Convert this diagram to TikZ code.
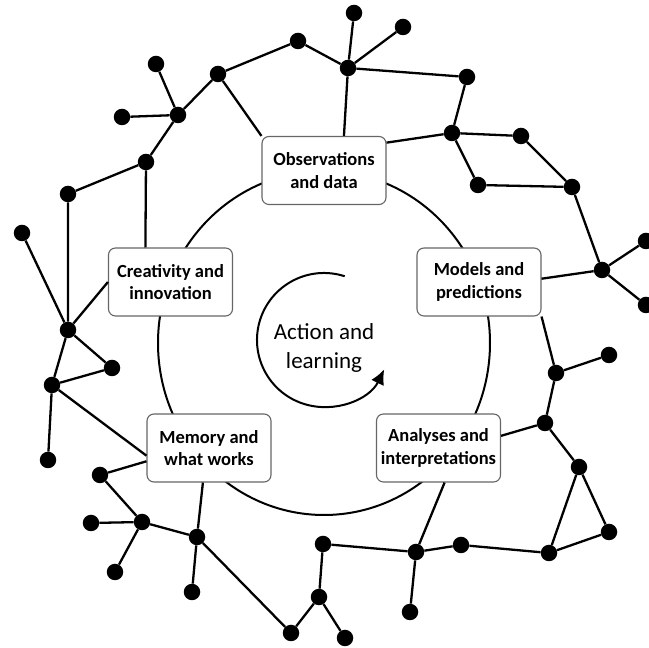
\documentclass[tikz,border=0pt]{standalone}
\usepackage{fontspec}
\setmainfont{Carlito}
\usepackage{tikz}
\usetikzlibrary{arrows.meta}
\tikzset{
    idea-box/.style = {draw=black!60, fill=white, line width=1.1pt, rectangle, rounded corners=7pt, minimum width=124pt, minimum height=68pt, inner sep=0pt, align=center, font=\fontsize{18.5}{22.5}\selectfont\bfseries},
    net-dot/.style = {circle, fill=black, inner sep=0pt, minimum size=16.5pt},
    net-link/.style = {line width=2.3pt},
}

\begin{document}
\begin{tikzpicture}[x=1pt, y=1pt]
\useasboundingbox (0,0) rectangle (649,648);
% ring and learning loop
\draw[line width=2pt] (324,305) ellipse [x radius=166, y radius=172];
\coordinate (loop-c) at (324,308);
\node[font=\fontsize{23}{29}\selectfont, align=center] (centre) at (324,300) {Action and\\learning};
\draw[line width=2pt, -{Latex[length=15pt, width=14pt]}] ([shift={(72:67)}]loop-c) arc [start angle=72, end angle=334, radius=67];

% the five boxes
\node[idea-box] (obs) at (324,477.5) {Observations\\and data};
\node[idea-box] (creative) at (170.5,366) {Creativity and\\innovation};
\node[idea-box] (models) at (479,366) {Models and\\predictions};
\node[idea-box] (memory) at (209,200) {Memory and\\what works};
\node[idea-box] (analyses) at (438.5,200) {Analyses and\\interpretations};

% dots, top left
\node[net-dot] (a1) at (298,607) {};
\node[net-dot] (a2) at (218,574) {};
\node[net-dot] (a3) at (156,584) {};
\node[net-dot] (a4) at (178,533) {};
\node[net-dot] (a5) at (122,531) {};
\node[net-dot] (a6) at (146,486) {};
\node[net-dot] (a7) at (68,454) {};
\node[net-dot] (a8) at (22,415) {};
% dots, top right
\node[net-dot] (b1) at (354,635) {};
\node[net-dot] (b2) at (403,621) {};
\node[net-dot] (b3) at (348,580) {};
\node[net-dot] (b4) at (467,571) {};
\node[net-dot] (b5) at (452,515) {};
\node[net-dot] (b6) at (521,512) {};
\node[net-dot] (b7) at (478,463) {};
\node[net-dot] (b8) at (572,461) {};
\node[net-dot] (b9) at (602,378) {};
\node[net-dot] (b10) at (646,407) {};
\node[net-dot] (b11) at (646,343) {};
% dots, bottom left
\node[net-dot] (c1) at (68,318) {};
\node[net-dot] (c2) at (112,280) {};
\node[net-dot] (c3) at (52,263) {};
\node[net-dot] (c4) at (48,188) {};
\node[net-dot] (c5) at (100,173) {};
\node[net-dot] (c6) at (142,126) {};
\node[net-dot] (c7) at (91,125) {};
\node[net-dot] (c8) at (115,76) {};
\node[net-dot] (c9) at (197,111) {};
\node[net-dot] (c10) at (192,56) {};
\node[net-dot] (c11) at (291,15) {};
% dots, bottom right
\node[net-dot] (d1) at (609,293) {};
\node[net-dot] (d2) at (556,275) {};
\node[net-dot] (d3) at (545,225) {};
\node[net-dot] (d4) at (579,181) {};
\node[net-dot] (d5) at (609,116) {};
\node[net-dot] (d6) at (549,95) {};
\node[net-dot] (d7) at (461,103) {};
\node[net-dot] (d8) at (416,96) {};
\node[net-dot] (d9) at (410,36) {};
\node[net-dot] (d10) at (323,104) {};
\node[net-dot] (d11) at (319,51) {};
\node[net-dot] (d12) at (345,10) {};

% links
\draw[net-link] (c1) -- (a7) -- (a6) -- (a4) -- (a2) -- (a1) -- (b3) -- (b4) -- (b5) -- (b7) -- (b8) -- (b9);
\draw[net-link] (a4) -- (a3) (a4) -- (a5) (a8) -- (c1);
\draw[net-link] (a2) -- (obs.north west) (a6) -- (creative.126);
\draw[net-link] (b3) -- (b1) (b3) -- (b2) (b3) -- (obs.60);
\draw[net-link] (b5) -- (obs.24) (b5) -- (b6) -- (b8);
\draw[net-link] (b9) -- (b10) (b9) -- (b11) (b9) -- (models.3);
\draw[net-link] (c1) -- (creative.west) (c1) -- (c2) -- (c3) -- (c1) (c3) -- (c4);
\draw[net-link] (c3) -- (memory.187) (c5) -- (memory.192) (c9) -- (memory.260);
\draw[net-link] (c5) -- (c6) -- (c9) -- (c11) -- (d11) -- (d10) -- (d8) -- (d7) -- (d6) -- (d4) -- (d3) -- (d2) -- (d1);
\draw[net-link] (c6) -- (c7) (c6) -- (c8) (c9) -- (c10);
\draw[net-link] (d2) -- (models.south east) (d3) -- (analyses.11) (d8) -- (analyses.280);
\draw[net-link] (d4) -- (d5) -- (d6) (d8) -- (d9) (d11) -- (d12);
\end{tikzpicture}
\end{document}
